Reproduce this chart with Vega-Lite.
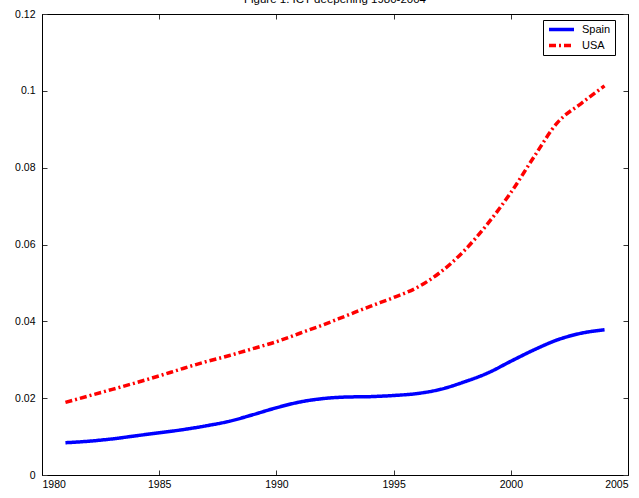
{
  "$schema": "https://vega.github.io/schema/vega-lite/v6.json",
  "width": 586,
  "height": 461,
  "autosize": {"type": "none"},
  "padding": {"left": 42, "top": 14, "right": 11, "bottom": 23},
  "background": "white",
  "title": {"text": "Figure 1. ICT deepening 1980-2004", "fontSize": 11.5, "font": "Liberation Sans", "fontWeight": "normal", "anchor": "middle", "frame": "group", "baseline": "alphabetic", "offset": -5, "color": "black"},
  "config": {
    "view": {"stroke": "black", "strokeWidth": 1},
    "axis": {"domainColor": "black", "domainWidth": 1, "tickColor": "#333333", "tickSize": -5, "tickWidth": 1, "labelFont": "Liberation Sans", "labelFontSize": 10.5, "labelColor": "black", "grid": false, "title": null}
  },
  "data": {"values": [
    {"year": 1981, "country": "Spain", "value": 0.0084},
    {"year": 1982, "country": "Spain", "value": 0.0088},
    {"year": 1983, "country": "Spain", "value": 0.0094},
    {"year": 1984, "country": "Spain", "value": 0.0102},
    {"year": 1985, "country": "Spain", "value": 0.0110},
    {"year": 1986, "country": "Spain", "value": 0.0118},
    {"year": 1987, "country": "Spain", "value": 0.0128},
    {"year": 1988, "country": "Spain", "value": 0.0140},
    {"year": 1989, "country": "Spain", "value": 0.0157},
    {"year": 1990, "country": "Spain", "value": 0.0175},
    {"year": 1991, "country": "Spain", "value": 0.0190},
    {"year": 1992, "country": "Spain", "value": 0.0199},
    {"year": 1993, "country": "Spain", "value": 0.0203},
    {"year": 1994, "country": "Spain", "value": 0.0204},
    {"year": 1995, "country": "Spain", "value": 0.0207},
    {"year": 1996, "country": "Spain", "value": 0.0212},
    {"year": 1997, "country": "Spain", "value": 0.0223},
    {"year": 1998, "country": "Spain", "value": 0.0242},
    {"year": 1999, "country": "Spain", "value": 0.0265},
    {"year": 2000, "country": "Spain", "value": 0.0296},
    {"year": 2001, "country": "Spain", "value": 0.0326},
    {"year": 2002, "country": "Spain", "value": 0.0352},
    {"year": 2003, "country": "Spain", "value": 0.0369},
    {"year": 2004, "country": "Spain", "value": 0.0378},
    {"year": 1981, "country": "USA", "value": 0.0189},
    {"year": 1982, "country": "USA", "value": 0.0206},
    {"year": 1983, "country": "USA", "value": 0.0223},
    {"year": 1984, "country": "USA", "value": 0.0240},
    {"year": 1985, "country": "USA", "value": 0.0258},
    {"year": 1986, "country": "USA", "value": 0.0277},
    {"year": 1987, "country": "USA", "value": 0.0295},
    {"year": 1988, "country": "USA", "value": 0.0311},
    {"year": 1989, "country": "USA", "value": 0.0329},
    {"year": 1990, "country": "USA", "value": 0.0347},
    {"year": 1991, "country": "USA", "value": 0.0369},
    {"year": 1992, "country": "USA", "value": 0.0391},
    {"year": 1993, "country": "USA", "value": 0.0415},
    {"year": 1994, "country": "USA", "value": 0.0439},
    {"year": 1995, "country": "USA", "value": 0.0462},
    {"year": 1996, "country": "USA", "value": 0.0488},
    {"year": 1997, "country": "USA", "value": 0.0528},
    {"year": 1998, "country": "USA", "value": 0.0583},
    {"year": 1999, "country": "USA", "value": 0.0653},
    {"year": 2000, "country": "USA", "value": 0.0735},
    {"year": 2001, "country": "USA", "value": 0.0829},
    {"year": 2002, "country": "USA", "value": 0.0918},
    {"year": 2003, "country": "USA", "value": 0.0967},
    {"year": 2004, "country": "USA", "value": 0.1013}
  ]},
  "layer": [
    {
      "mark": {"type": "line", "strokeWidth": 3.5, "interpolate": "monotone"},
      "encoding": {
        "x": {"field": "year", "type": "quantitative", "scale": {"domain": [1980, 2005], "nice": false, "zero": false}, "axis": {"orient": "bottom", "values": [1980, 1985, 1990, 1995, 2000, 2005], "format": "d", "labelPadding": 9}},
        "y": {"field": "value", "type": "quantitative", "scale": {"domain": [0, 0.12], "nice": false}, "axis": {"orient": "left", "values": [0, 0.02, 0.04, 0.06, 0.08, 0.1, 0.12], "labelExpr": "'' + datum.value", "labelPadding": 12}},
        "color": {"field": "country", "type": "nominal", "scale": {"domain": ["Spain", "USA"], "range": ["#0000ff", "#ff0000"]}, "legend": {"title": null, "orient": "none", "legendX": 501, "legendY": 6, "symbolType": "stroke", "symbolSize": 625, "symbolStrokeWidth": 3.5, "labelFont": "Liberation Sans", "labelFontSize": 11, "labelColor": "black", "fillColor": "white", "strokeColor": "black", "padding": 4, "rowPadding": 4, "clipHeight": 11, "labelOffset": 6, "labelExpr": "datum.label + '    '"}},
        "strokeDash": {"field": "country", "type": "nominal", "scale": {"domain": ["Spain", "USA"], "range": [[1, 0], [7, 3, 2, 3]]}, "legend": {"title": null, "orient": "none", "legendX": 501, "legendY": 6, "symbolType": "stroke", "symbolSize": 625, "symbolStrokeWidth": 3.5, "labelFont": "Liberation Sans", "labelFontSize": 11, "labelColor": "black", "fillColor": "white", "strokeColor": "black", "padding": 4, "rowPadding": 4, "clipHeight": 11, "labelOffset": 6, "labelExpr": "datum.label + '    '"}}
      }
    },
    {
      "mark": {"type": "line", "opacity": 0},
      "encoding": {
        "x": {"field": "year", "type": "quantitative", "axis": {"orient": "top", "values": [1980, 1985, 1990, 1995, 2000, 2005], "labels": false}},
        "y": {"field": "value", "type": "quantitative", "axis": {"orient": "right", "values": [0, 0.02, 0.04, 0.06, 0.08, 0.1, 0.12], "labels": false}}
      }
    }
  ],
  "resolve": {"axis": {"x": "independent", "y": "independent"}}
}
